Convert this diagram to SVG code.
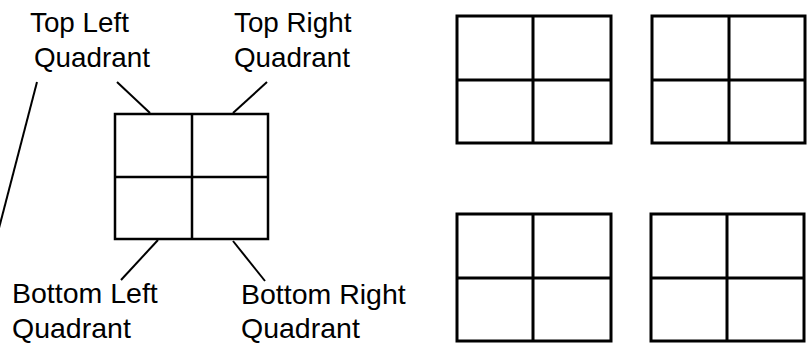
<svg xmlns="http://www.w3.org/2000/svg" width="807" height="343" viewBox="0 0 807 343">
<style>
.lbl{font-family:"Liberation Sans",Arial,sans-serif;font-size:27.8px;fill:#000}
.lb2{font-family:"Liberation Sans",Arial,sans-serif;font-size:28.5px;fill:#000}
.g{fill:#fff;stroke:#000;stroke-width:2.5}
.gl{stroke:#000;stroke-width:2.5;fill:none}
.g3{fill:#fff;stroke:#000;stroke-width:3}
.gl3{stroke:#000;stroke-width:3;fill:none}
.ld{stroke:#000;stroke-width:2;fill:none}
</style>
<rect width="807" height="343" fill="#fff"/>
<g id="labels">
<text class="lbl" x="30" y="32">Top Left</text>
<text class="lbl" x="34" y="67">Quadrant</text>
<text class="lbl" x="234" y="32">Top Right</text>
<text class="lbl" x="234" y="67">Quadrant</text>
<text class="lb2" x="12" y="303">Bottom Left</text>
<text class="lb2" x="12" y="338">Quadrant</text>
<text class="lb2" x="241" y="304">Bottom Right</text>
<text class="lb2" x="241" y="338">Quadrant</text>
</g>
<g id="connectors">
<line class="ld" x1="117" y1="82" x2="150" y2="113"/>
<line class="ld" x1="267" y1="82" x2="233" y2="113"/>
<line class="ld" x1="37" y1="82" x2="-1" y2="228"/>
<line class="ld" x1="158" y1="240" x2="121" y2="280"/>
<line class="ld" x1="233" y1="241" x2="265" y2="281"/>
</g>
<g id="center-grid">
<rect class="g" x="115" y="114" width="153" height="125"/>
<path class="gl" d="M192 114V239M115 177H268"/>
</g>
<g id="grid-top-1">
<rect class="g3" x="457" y="16" width="154" height="127"/>
<path class="gl3" d="M533 16V143M457 80H611"/>
</g>
<g id="grid-top-2">
<rect class="g3" x="652" y="16" width="153" height="127"/>
<path class="gl3" d="M729 16V143M652 80H805"/>
</g>
<g id="grid-bottom-1">
<rect class="g3" x="457" y="214" width="154" height="127"/>
<path class="gl3" d="M533 214V341M457 278H611"/>
</g>
<g id="grid-bottom-2">
<rect class="g3" x="651" y="214" width="153" height="127"/>
<path class="gl3" d="M727 214V341M651 278H804"/>
</g>
</svg>
